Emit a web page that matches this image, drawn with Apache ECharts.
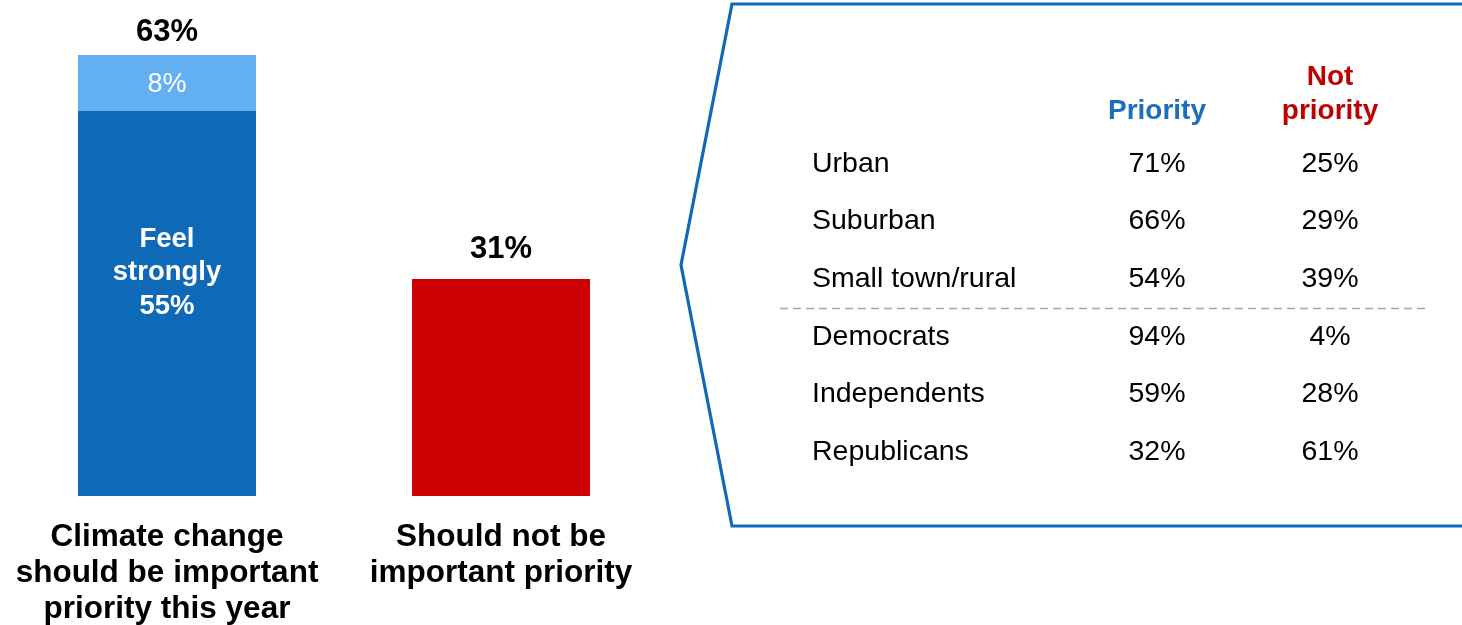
<!DOCTYPE html>
<html>
<head>
<meta charset="utf-8">
<script src="https://cdn.jsdelivr.net/npm/echarts@6/dist/echarts.min.js"></script>
<style>
html,body{margin:0;padding:0;background:#fff;}
#c{width:1462px;height:625px;}
</style>
</head>
<body>
<div id="c"></div>
<script>
// ---- data ----
const barCategories = ['Climate change\nshould be important\npriority this year', 'Should not be\nimportant priority'];
const feelStrongly = [55, null];
const somewhat = [8, null];
const notPriority = [null, 31];
const priorityTotal = 63;

const tableRows = ['Urban', 'Suburban', 'Small town/rural', 'Democrats', 'Independents', 'Republicans'];
const tableCols = ['Priority', 'Not\npriority'];
const priorityVals = [71, 66, 54, 94, 59, 32];
const notPriorityVals = [25, 29, 39, 4, 28, 61];
const groupBreakAfter = 2; // separator after "Small town/rural"

const FONT = '"Liberation Sans", Arial, sans-serif';
const DARK_BLUE = '#0e69b6';
const LIGHT_BLUE = '#62b0f2';
const RED = '#cc0000';

const chart = echarts.init(document.getElementById('c'), null, {renderer: 'canvas'});

const cellLabel = {
  show: true, position: 'inside', color: '#000', fontFamily: FONT, fontSize: 28.5,
  textBorderWidth: 0, textBorderColor: 'transparent', textShadowBlur: 0,
  formatter: p => p.data[2] + '%'
};

const option = {
  animation: false,
  textStyle: {fontFamily: FONT},
  grid: [
    {left: 0, width: 668, top: 6, bottom: 129, containLabel: false, outerBoundsMode: 'none'},
    {left: 1070.5, width: 346, top: 135.2, bottom: 144.2, containLabel: false, outerBoundsMode: 'none'}
  ],
  xAxis: [
    {
      gridIndex: 0, type: 'category', data: barCategories,
      axisLine: {show: false}, axisTick: {show: false},
      axisLabel: {
        interval: 0, margin: 23, color: '#000', fontFamily: FONT,
        fontWeight: 'bold', fontSize: 31.5, lineHeight: 36
      }
    },
    {
      gridIndex: 1, type: 'category', data: tableCols, position: 'top',
      axisLine: {show: false}, axisTick: {show: false}, splitLine: {show: false},
      axisLabel: {
        interval: 0, margin: 7, fontFamily: FONT, fontWeight: 'bold', fontSize: 28, lineHeight: 34,
        verticalAlign: 'bottom',
        color: function (v, i) { return i === 0 ? '#1a6fc1' : '#c00000'; }
      }
    }
  ],
  yAxis: [
    {gridIndex: 0, type: 'value', min: 0, max: 70, show: false},
    {
      gridIndex: 1, type: 'category', data: tableRows, inverse: true,
      axisLine: {show: false}, axisTick: {show: false}, splitLine: {show: false},
      axisLabel: {
        interval: 0, align: 'left', margin: 258.5, color: '#000',
        fontFamily: FONT, fontSize: 28.5
      }
    }
  ],
  series: [
    {
      type: 'bar', xAxisIndex: 0, yAxisIndex: 0, stack: 'total', barWidth: 178,
      data: [
        {value: feelStrongly[0], itemStyle: {color: DARK_BLUE},
         label: {show: true, position: 'inside', offset: [0, -31], color: '#fff',
                 textBorderWidth: 0,
                 fontFamily: FONT, fontWeight: 'bold', fontSize: 27.5, lineHeight: 33.5,
                 formatter: 'Feel\nstrongly\n' + feelStrongly[0] + '%'}},
        {value: notPriority[1], itemStyle: {color: RED},
         label: {show: true, position: 'top', distance: 14, color: '#000',
                 fontFamily: FONT, fontWeight: 'bold', fontSize: 31,
                 formatter: notPriority[1] + '%'}}
      ]
    },
    {
      type: 'bar', xAxisIndex: 0, yAxisIndex: 0, stack: 'total', barWidth: 178,
      itemStyle: {color: LIGHT_BLUE},
      data: [
        {value: somewhat[0],
         label: {show: true, position: 'inside', offset: [0, 2], color: '#fff', fontFamily: FONT, fontSize: 27,
                 textBorderWidth: 0,
                 formatter: somewhat[0] + '%'}},
        '-'
      ],
      markPoint: {
        symbol: 'rect', symbolSize: 0,
        label: {show: true, position: 'top', distance: 7, color: '#000', fontFamily: FONT,
                fontWeight: 'bold', fontSize: 31, formatter: priorityTotal + '%'},
        data: [{coord: [0, priorityTotal]}]
      }
    },
    {
      type: 'scatter', xAxisIndex: 1, yAxisIndex: 1, symbolSize: 0, silent: true,
      itemStyle: {opacity: 1},
      data: priorityVals.map((v, i) => [tableCols[0], tableRows[i], v]),
      label: cellLabel
    },
    {
      type: 'scatter', xAxisIndex: 1, yAxisIndex: 1, symbolSize: 0, silent: true,
      itemStyle: {opacity: 1},
      data: notPriorityVals.map((v, i) => [tableCols[1], tableRows[i], v]),
      label: cellLabel
    }
  ]
};
chart.setOption(option);

// decorations: frame and group separator
const yA = chart.convertToPixel({xAxisIndex: 1, yAxisIndex: 1}, [tableCols[0], tableRows[groupBreakAfter]])[1];
const yB = chart.convertToPixel({xAxisIndex: 1, yAxisIndex: 1}, [tableCols[0], tableRows[groupBreakAfter + 1]])[1];
const sepY = Math.round((yA + yB) / 2) + 0.5;
chart.setOption({
  graphic: [
    {type: 'polyline', silent: true,
     shape: {points: [[1470, 4], [732, 4], [681, 265], [732, 526], [1470, 526]]},
     style: {stroke: '#0e69b6', lineWidth: 3.2, fill: null}},
    {type: 'line', silent: true,
     shape: {x1: 780, y1: sepY, x2: 1425, y2: sepY},
     style: {stroke: '#a6a6a6', lineWidth: 1.5, lineDash: [8, 5]}}
  ]
});
</script>
</body>
</html>
